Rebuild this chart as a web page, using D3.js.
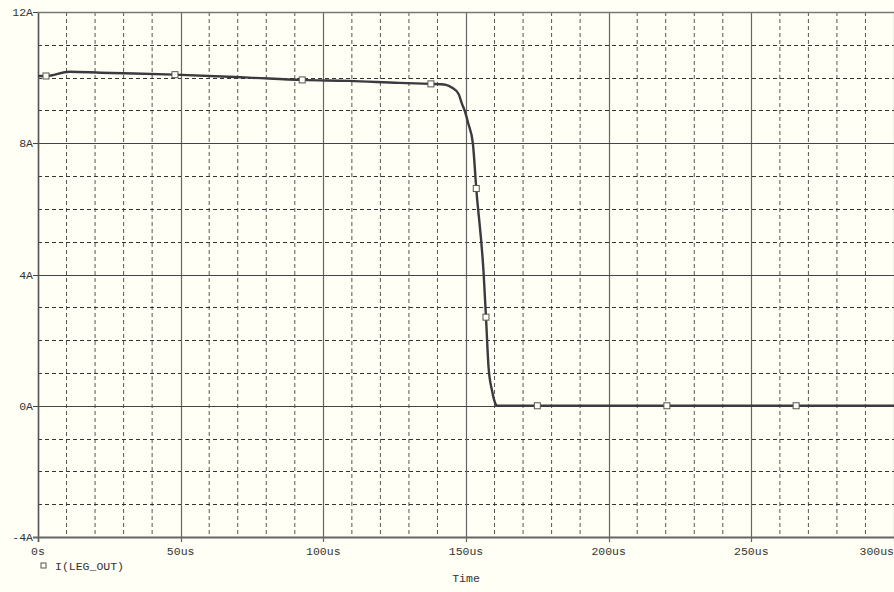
<!DOCTYPE html>
<html><head><meta charset="utf-8">
<script src="https://cdn.jsdelivr.net/npm/d3@7"></script>
<style>html,body{margin:0;padding:0;background:#fffff5;}svg{display:block;}</style>
</head><body>
<svg id="c" width="894" height="592"></svg>
<script>
// time in microseconds, current in amperes
const timeUs = [0, 2.8, 11, 22, 48, 74, 92.6, 109, 126.5, 137.7, 141, 143, 145, 147.4, 148.6, 149.5, 150.8, 152.4, 153.6, 156.2, 157.0, 157.9, 159.1, 160.5, 161.0, 175, 220.4, 265.7, 300];
const currentA = [10.05, 10.05, 10.18, 10.15, 10.09, 10.0, 9.93, 9.9, 9.84, 9.81, 9.80, 9.78, 9.7, 9.5, 9.2, 9.0, 8.6, 8.0, 6.62, 4.0, 2.7, 1.18, 0.47, 0.03, 0, 0, 0, 0, 0];
const markerTimes = [2.8, 48, 92.6, 137.7, 153.6, 157.0, 175, 220.4, 265.7];
const markerVals = [10.05, 10.09, 9.93, 9.81, 6.62, 2.7, 0, 0, 0];
const xMajorTicks = [0, 50, 100, 150, 200, 250, 300];
const xTickLabels = ["0s", "50us", "100us", "150us", "200us", "250us", "300us"];
const yMajorTicks = [-4, 0, 4, 8, 12];
const yTickLabels = ["-4A", "0A", "4A", "8A", "12A"];
const seriesName = "I(LEG_OUT)";
const xTitle = "Time";

const svg = d3.select("#c");
const L = 38, R = 894, T = 12, B = 537;
const x = d3.scaleLinear().domain([0, 300]).range([L, R]);
const y = d3.scaleLinear().domain([-4, 12]).range([B, T]);
const font = "'Liberation Mono', 'Courier New', monospace";

svg.append("rect").attr("width", 894).attr("height", 592).attr("fill", "#fffff5");

const g = svg.append("g");
// minor grid
const xMinor = d3.range(0, 301, 10).filter(v => v % 50 !== 0);
const yMinor = d3.range(-4, 13, 1).filter(v => v % 4 !== 0);
g.selectAll(".vx").data(xMinor).join("line")
  .attr("x1", d => x(d)).attr("x2", d => x(d)).attr("y1", T).attr("y2", B)
  .attr("stroke", "#555").attr("stroke-width", 1).attr("stroke-dasharray", "4,3");
g.selectAll(".hy").data(yMinor).join("line")
  .attr("y1", d => Math.round(y(d)) + 0.5).attr("y2", d => Math.round(y(d)) + 0.5).attr("x1", L).attr("x2", R)
  .attr("stroke", "#333").attr("stroke-width", 1).attr("stroke-dasharray", "4,3");
// major grid
g.selectAll(".mx").data(xMajorTicks).join("line")
  .attr("x1", d => Math.round(x(d)) + 0.5).attr("x2", d => Math.round(x(d)) + 0.5).attr("y1", T).attr("y2", B + 5)
  .attr("stroke", "#666").attr("stroke-width", 1.2);
g.selectAll(".my").data(yMajorTicks).join("line")
  .attr("y1", d => Math.round(y(d)) + 0.5).attr("y2", d => Math.round(y(d)) + 0.5).attr("x1", L - 5).attr("x2", R)
  .attr("stroke", "#444").attr("stroke-width", 1.1);
// frame
g.append("line").attr("x1", L + 0.5).attr("x2", L + 0.5).attr("y1", T).attr("y2", B + 5).attr("stroke", "#555").attr("stroke-width", 1.5);
g.append("line").attr("x1", L - 5).attr("x2", R).attr("y1", B + 0.5).attr("y2", B + 0.5).attr("stroke", "#666").attr("stroke-width", 1.8);
g.append("line").attr("x1", L).attr("x2", R).attr("y1", T + 0.5).attr("y2", T + 0.5).attr("stroke", "#777").attr("stroke-width", 1.5);

// labels
svg.selectAll(".xl").data(xMajorTicks).join("text")
  .attr("x", (d, i) => i === xMajorTicks.length - 1 ? 894 : x(d))
  .attr("y", 555)
  .attr("text-anchor", (d, i) => i === xMajorTicks.length - 1 ? "end" : "middle")
  .attr("font-family", font).attr("font-size", 11.5).attr("fill", "#333")
  .text((d, i) => xTickLabels[i]);
svg.selectAll(".yl").data(yMajorTicks).join("text")
  .attr("x", 33).attr("y", d => y(d) + 4)
  .attr("text-anchor", "end")
  .attr("font-family", font).attr("font-size", 11.5).attr("fill", "#333")
  .text((d, i) => yTickLabels[i]);
svg.append("text").attr("x", 466).attr("y", 582).attr("text-anchor", "middle")
  .attr("font-family", font).attr("font-size", 11.5).attr("fill", "#333").text(xTitle);
svg.append("rect").attr("x", 41).attr("y", 563).attr("width", 5).attr("height", 5)
  .attr("fill", "none").attr("stroke", "#555").attr("stroke-width", 1);
svg.append("text").attr("x", 55).attr("y", 570)
  .attr("font-family", font).attr("font-size", 11.5).attr("fill", "#333").text(seriesName);

// curve
const line = d3.line().x((d, i) => x(timeUs[i])).y((d, i) => y(currentA[i])).curve(d3.curveMonotoneX);
svg.append("path").datum(currentA).attr("d", line)
  .attr("fill", "none").attr("stroke", "#3a3a3f").attr("stroke-width", 2.4).attr("stroke-linejoin", "round");
svg.selectAll(".mk").data(markerTimes).join("rect")
  .attr("x", (d) => x(d) - 3).attr("y", (d, i) => y(markerVals[i]) - 3)
  .attr("width", 6).attr("height", 6)
  .attr("fill", "#fffff5").attr("stroke", "#555").attr("stroke-width", 1);
</script>
</body></html>
